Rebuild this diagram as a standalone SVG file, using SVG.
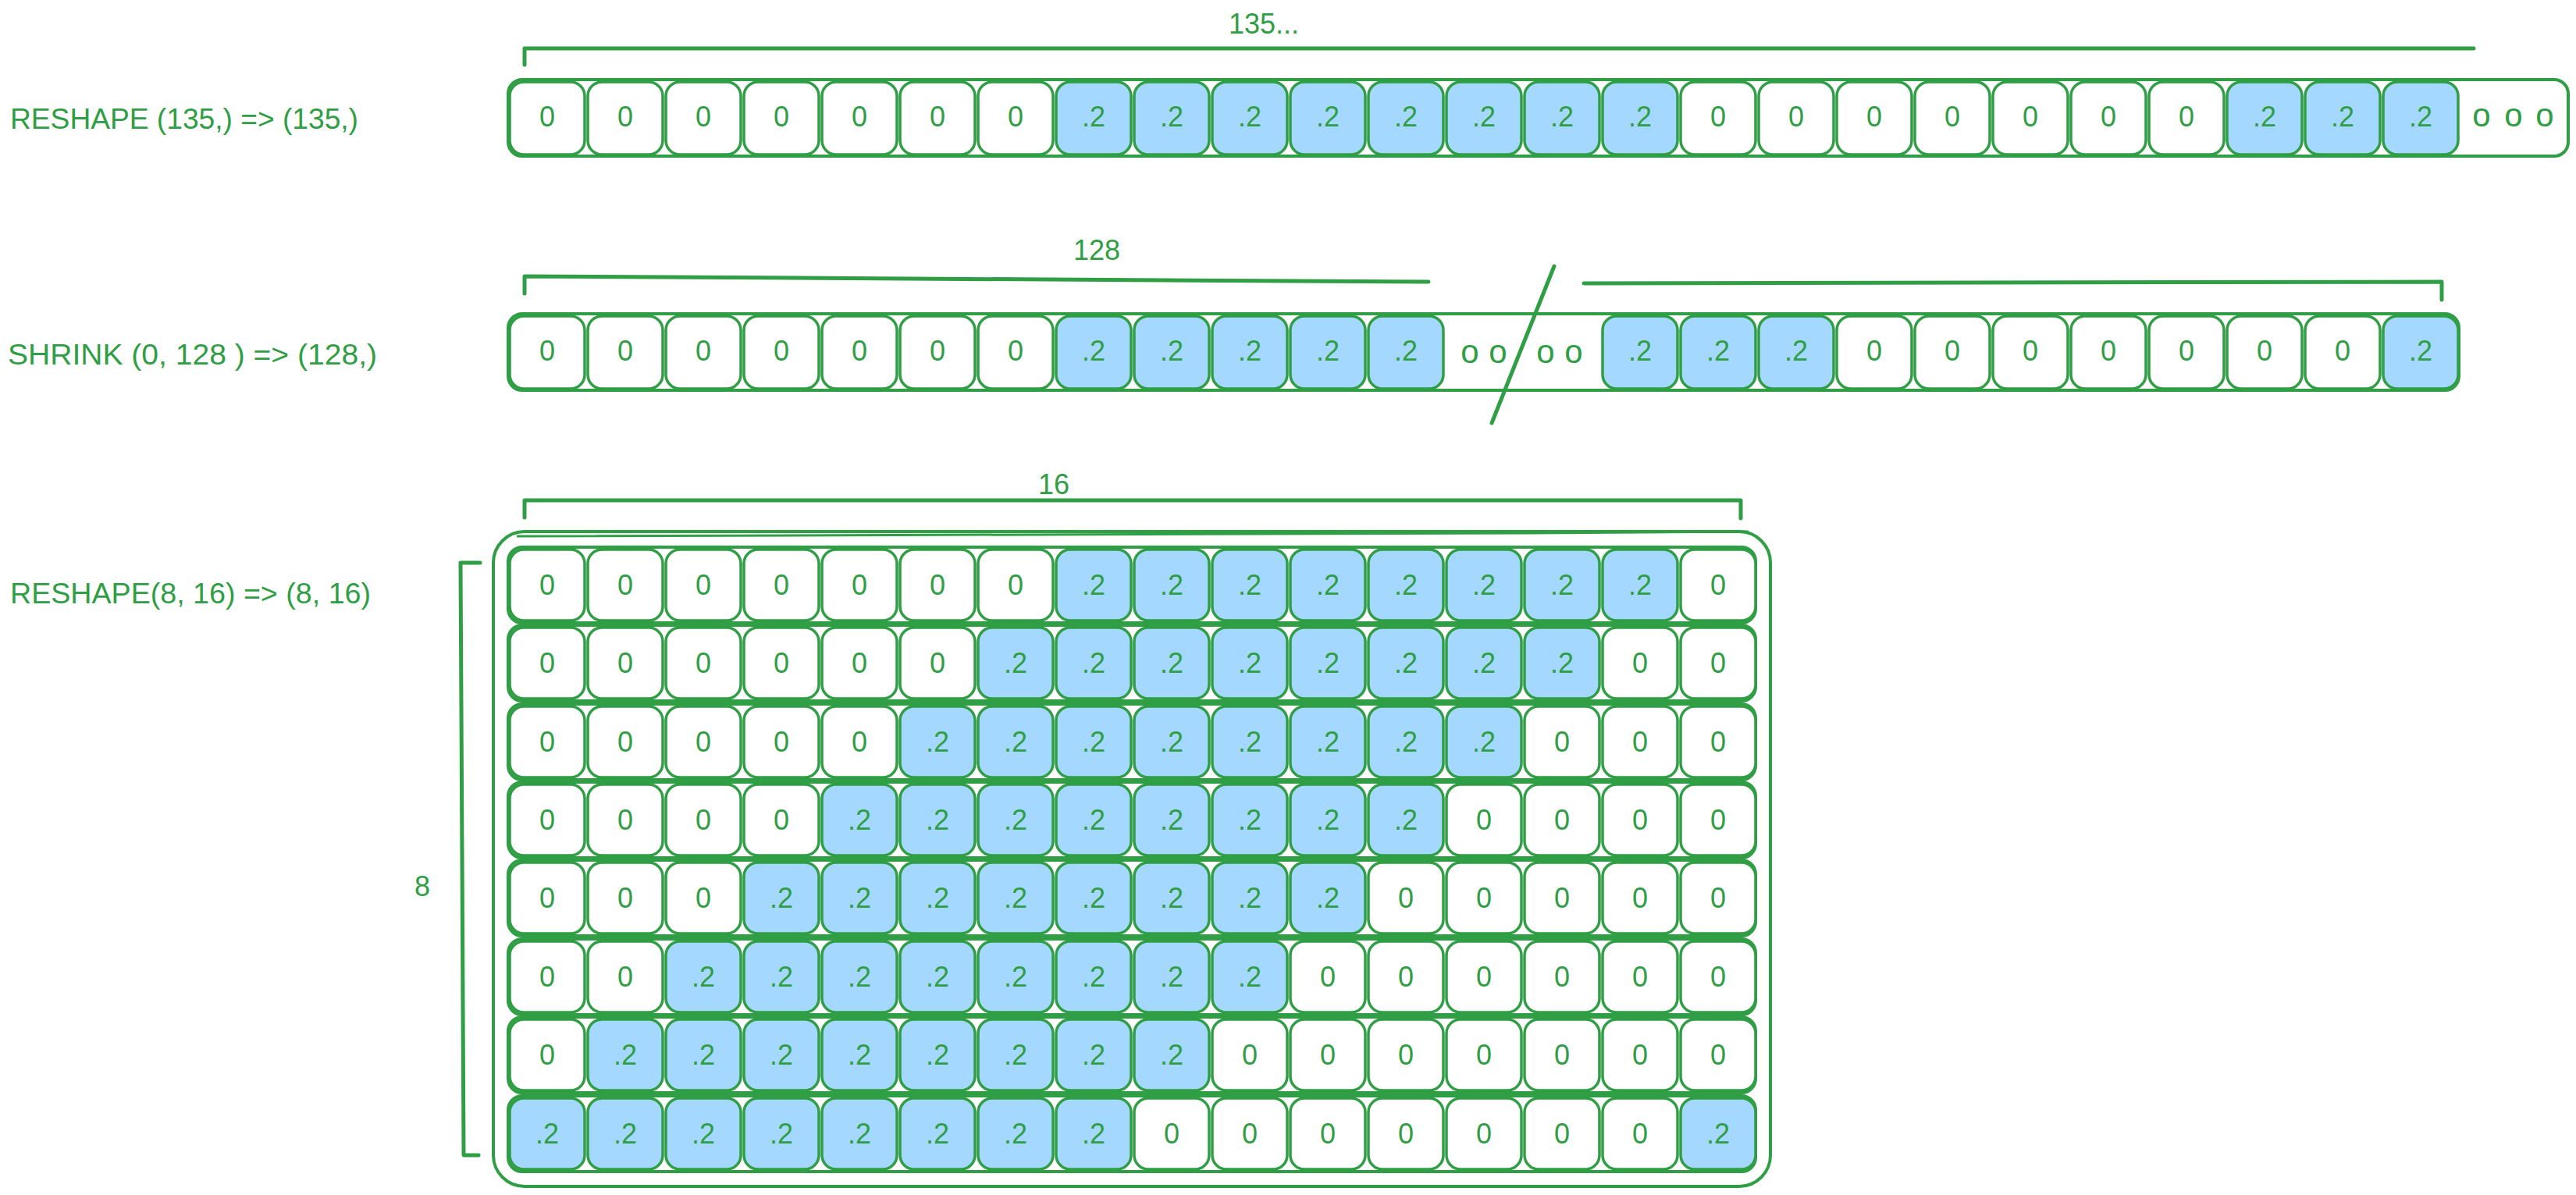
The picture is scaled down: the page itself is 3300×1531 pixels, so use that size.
<svg xmlns="http://www.w3.org/2000/svg" width="3300" height="1531" viewBox="0 0 3300 1531">
<style>
.s{fill:#ffffff;stroke:#2f9e44;stroke-width:4}
.w{fill:#ffffff;stroke:#2f9e44;stroke-width:3.5}
.b{fill:#a5d8ff;stroke:#2f9e44;stroke-width:3.5}
.t{font-family:"Liberation Sans",Arial,sans-serif;font-size:36px;fill:#2f9e44;text-anchor:middle}
.l{font-family:"Liberation Sans",Arial,sans-serif;font-size:36px;fill:#2f9e44}
.k{fill:none;stroke:#2f9e44;stroke-width:5;stroke-linecap:round;stroke-linejoin:round}
.o{font-family:"Liberation Sans",Arial,sans-serif;font-size:42px;fill:#2f9e44;text-anchor:middle}
</style>
<rect width="3300" height="1531" fill="#ffffff"/>
<g id="labels">
<text class="l" x="13" y="165" textLength="446" lengthAdjust="spacingAndGlyphs">RESHAPE (135,) =&gt; (135,)</text>
<text class="l" x="10" y="467" textLength="473" lengthAdjust="spacingAndGlyphs">SHRINK (0, 128 ) =&gt; (128,)</text>
<text class="l" x="13" y="773" textLength="462" lengthAdjust="spacingAndGlyphs">RESHAPE(8, 16) =&gt; (8, 16)</text>
<text class="t" x="1619" y="43">135...</text>
<text class="t" x="1405" y="333">128</text>
<text class="t" x="1350" y="633">16</text>
<text class="t" x="541" y="1148">8</text>
</g>
<g id="row1">
<rect class="s" x="651" y="102" width="2639" height="98" rx="18"/>
<g id="r1c0"><rect class="w" x="653" y="105" width="96" height="93" rx="18"/><text class="t" x="701" y="162">0</text></g>
<g id="r1c1"><rect class="w" x="753" y="105" width="96" height="93" rx="18"/><text class="t" x="801" y="162">0</text></g>
<g id="r1c2"><rect class="w" x="853" y="105" width="96" height="93" rx="18"/><text class="t" x="901" y="162">0</text></g>
<g id="r1c3"><rect class="w" x="953" y="105" width="96" height="93" rx="18"/><text class="t" x="1001" y="162">0</text></g>
<g id="r1c4"><rect class="w" x="1053" y="105" width="96" height="93" rx="18"/><text class="t" x="1101" y="162">0</text></g>
<g id="r1c5"><rect class="w" x="1153" y="105" width="96" height="93" rx="18"/><text class="t" x="1201" y="162">0</text></g>
<g id="r1c6"><rect class="w" x="1253" y="105" width="96" height="93" rx="18"/><text class="t" x="1301" y="162">0</text></g>
<g id="r1c7"><rect class="b" x="1353" y="105" width="96" height="93" rx="18"/><text class="t" x="1401" y="162">.2</text></g>
<g id="r1c8"><rect class="b" x="1453" y="105" width="96" height="93" rx="18"/><text class="t" x="1501" y="162">.2</text></g>
<g id="r1c9"><rect class="b" x="1553" y="105" width="96" height="93" rx="18"/><text class="t" x="1601" y="162">.2</text></g>
<g id="r1c10"><rect class="b" x="1653" y="105" width="96" height="93" rx="18"/><text class="t" x="1701" y="162">.2</text></g>
<g id="r1c11"><rect class="b" x="1753" y="105" width="96" height="93" rx="18"/><text class="t" x="1801" y="162">.2</text></g>
<g id="r1c12"><rect class="b" x="1853" y="105" width="96" height="93" rx="18"/><text class="t" x="1901" y="162">.2</text></g>
<g id="r1c13"><rect class="b" x="1953" y="105" width="96" height="93" rx="18"/><text class="t" x="2001" y="162">.2</text></g>
<g id="r1c14"><rect class="b" x="2053" y="105" width="96" height="93" rx="18"/><text class="t" x="2101" y="162">.2</text></g>
<g id="r1c15"><rect class="w" x="2153" y="105" width="96" height="93" rx="18"/><text class="t" x="2201" y="162">0</text></g>
<g id="r1c16"><rect class="w" x="2253" y="105" width="96" height="93" rx="18"/><text class="t" x="2301" y="162">0</text></g>
<g id="r1c17"><rect class="w" x="2353" y="105" width="96" height="93" rx="18"/><text class="t" x="2401" y="162">0</text></g>
<g id="r1c18"><rect class="w" x="2453" y="105" width="96" height="93" rx="18"/><text class="t" x="2501" y="162">0</text></g>
<g id="r1c19"><rect class="w" x="2553" y="105" width="96" height="93" rx="18"/><text class="t" x="2601" y="162">0</text></g>
<g id="r1c20"><rect class="w" x="2653" y="105" width="96" height="93" rx="18"/><text class="t" x="2701" y="162">0</text></g>
<g id="r1c21"><rect class="w" x="2753" y="105" width="96" height="93" rx="18"/><text class="t" x="2801" y="162">0</text></g>
<g id="r1c22"><rect class="b" x="2853" y="105" width="96" height="93" rx="18"/><text class="t" x="2901" y="162">.2</text></g>
<g id="r1c23"><rect class="b" x="2953" y="105" width="96" height="93" rx="18"/><text class="t" x="3001" y="162">.2</text></g>
<g id="r1c24"><rect class="b" x="3053" y="105" width="96" height="93" rx="18"/><text class="t" x="3101" y="162">.2</text></g>
<text class="o" x="3179 3220 3260" y="162">ooo</text>
</g>
<g id="row2">
<rect class="s" x="651" y="402" width="2499" height="98" rx="18"/>
<g id="r2c0"><rect class="w" x="653" y="405" width="96" height="93" rx="18"/><text class="t" x="701" y="462">0</text></g>
<g id="r2c1"><rect class="w" x="753" y="405" width="96" height="93" rx="18"/><text class="t" x="801" y="462">0</text></g>
<g id="r2c2"><rect class="w" x="853" y="405" width="96" height="93" rx="18"/><text class="t" x="901" y="462">0</text></g>
<g id="r2c3"><rect class="w" x="953" y="405" width="96" height="93" rx="18"/><text class="t" x="1001" y="462">0</text></g>
<g id="r2c4"><rect class="w" x="1053" y="405" width="96" height="93" rx="18"/><text class="t" x="1101" y="462">0</text></g>
<g id="r2c5"><rect class="w" x="1153" y="405" width="96" height="93" rx="18"/><text class="t" x="1201" y="462">0</text></g>
<g id="r2c6"><rect class="w" x="1253" y="405" width="96" height="93" rx="18"/><text class="t" x="1301" y="462">0</text></g>
<g id="r2c7"><rect class="b" x="1353" y="405" width="96" height="93" rx="18"/><text class="t" x="1401" y="462">.2</text></g>
<g id="r2c8"><rect class="b" x="1453" y="405" width="96" height="93" rx="18"/><text class="t" x="1501" y="462">.2</text></g>
<g id="r2c9"><rect class="b" x="1553" y="405" width="96" height="93" rx="18"/><text class="t" x="1601" y="462">.2</text></g>
<g id="r2c10"><rect class="b" x="1653" y="405" width="96" height="93" rx="18"/><text class="t" x="1701" y="462">.2</text></g>
<g id="r2c11"><rect class="b" x="1753" y="405" width="96" height="93" rx="18"/><text class="t" x="1801" y="462">.2</text></g>
<text class="o" x="1883 1919" y="465">oo</text>
<text class="o" x="1980 2016" y="465">oo</text>
<g id="r2c14"><rect class="b" x="2053" y="405" width="96" height="93" rx="18"/><text class="t" x="2101" y="462">.2</text></g>
<g id="r2c15"><rect class="b" x="2153" y="405" width="96" height="93" rx="18"/><text class="t" x="2201" y="462">.2</text></g>
<g id="r2c16"><rect class="b" x="2253" y="405" width="96" height="93" rx="18"/><text class="t" x="2301" y="462">.2</text></g>
<g id="r2c17"><rect class="w" x="2353" y="405" width="96" height="93" rx="18"/><text class="t" x="2401" y="462">0</text></g>
<g id="r2c18"><rect class="w" x="2453" y="405" width="96" height="93" rx="18"/><text class="t" x="2501" y="462">0</text></g>
<g id="r2c19"><rect class="w" x="2553" y="405" width="96" height="93" rx="18"/><text class="t" x="2601" y="462">0</text></g>
<g id="r2c20"><rect class="w" x="2653" y="405" width="96" height="93" rx="18"/><text class="t" x="2701" y="462">0</text></g>
<g id="r2c21"><rect class="w" x="2753" y="405" width="96" height="93" rx="18"/><text class="t" x="2801" y="462">0</text></g>
<g id="r2c22"><rect class="w" x="2853" y="405" width="96" height="93" rx="18"/><text class="t" x="2901" y="462">0</text></g>
<g id="r2c23"><rect class="w" x="2953" y="405" width="96" height="93" rx="18"/><text class="t" x="3001" y="462">0</text></g>
<g id="r2c24"><rect class="b" x="3053" y="405" width="96" height="93" rx="18"/><text class="t" x="3101" y="462">.2</text></g>
</g>
<g id="matrix">
<rect class="s" x="632" y="681" width="1636" height="839" rx="40"/>
<path d="M662,687 L1960,683 L2240,681" fill="none" stroke="#2f9e44" stroke-width="3"/>
<g id="m0">
<rect class="s" x="651" y="701" width="1598" height="97" rx="18"/>
<g id="m0c0"><rect class="w" x="653" y="704" width="96" height="91" rx="18"/><text class="t" x="701" y="762">0</text></g>
<g id="m0c1"><rect class="w" x="753" y="704" width="96" height="91" rx="18"/><text class="t" x="801" y="762">0</text></g>
<g id="m0c2"><rect class="w" x="853" y="704" width="96" height="91" rx="18"/><text class="t" x="901" y="762">0</text></g>
<g id="m0c3"><rect class="w" x="953" y="704" width="96" height="91" rx="18"/><text class="t" x="1001" y="762">0</text></g>
<g id="m0c4"><rect class="w" x="1053" y="704" width="96" height="91" rx="18"/><text class="t" x="1101" y="762">0</text></g>
<g id="m0c5"><rect class="w" x="1153" y="704" width="96" height="91" rx="18"/><text class="t" x="1201" y="762">0</text></g>
<g id="m0c6"><rect class="w" x="1253" y="704" width="96" height="91" rx="18"/><text class="t" x="1301" y="762">0</text></g>
<g id="m0c7"><rect class="b" x="1353" y="704" width="96" height="91" rx="18"/><text class="t" x="1401" y="762">.2</text></g>
<g id="m0c8"><rect class="b" x="1453" y="704" width="96" height="91" rx="18"/><text class="t" x="1501" y="762">.2</text></g>
<g id="m0c9"><rect class="b" x="1553" y="704" width="96" height="91" rx="18"/><text class="t" x="1601" y="762">.2</text></g>
<g id="m0c10"><rect class="b" x="1653" y="704" width="96" height="91" rx="18"/><text class="t" x="1701" y="762">.2</text></g>
<g id="m0c11"><rect class="b" x="1753" y="704" width="96" height="91" rx="18"/><text class="t" x="1801" y="762">.2</text></g>
<g id="m0c12"><rect class="b" x="1853" y="704" width="96" height="91" rx="18"/><text class="t" x="1901" y="762">.2</text></g>
<g id="m0c13"><rect class="b" x="1953" y="704" width="96" height="91" rx="18"/><text class="t" x="2001" y="762">.2</text></g>
<g id="m0c14"><rect class="b" x="2053" y="704" width="96" height="91" rx="18"/><text class="t" x="2101" y="762">.2</text></g>
<g id="m0c15"><rect class="w" x="2153" y="704" width="96" height="91" rx="18"/><text class="t" x="2201" y="762">0</text></g>
</g>
<g id="m1">
<rect class="s" x="651" y="801" width="1598" height="97" rx="18"/>
<g id="m1c0"><rect class="w" x="653" y="804" width="96" height="91" rx="18"/><text class="t" x="701" y="862">0</text></g>
<g id="m1c1"><rect class="w" x="753" y="804" width="96" height="91" rx="18"/><text class="t" x="801" y="862">0</text></g>
<g id="m1c2"><rect class="w" x="853" y="804" width="96" height="91" rx="18"/><text class="t" x="901" y="862">0</text></g>
<g id="m1c3"><rect class="w" x="953" y="804" width="96" height="91" rx="18"/><text class="t" x="1001" y="862">0</text></g>
<g id="m1c4"><rect class="w" x="1053" y="804" width="96" height="91" rx="18"/><text class="t" x="1101" y="862">0</text></g>
<g id="m1c5"><rect class="w" x="1153" y="804" width="96" height="91" rx="18"/><text class="t" x="1201" y="862">0</text></g>
<g id="m1c6"><rect class="b" x="1253" y="804" width="96" height="91" rx="18"/><text class="t" x="1301" y="862">.2</text></g>
<g id="m1c7"><rect class="b" x="1353" y="804" width="96" height="91" rx="18"/><text class="t" x="1401" y="862">.2</text></g>
<g id="m1c8"><rect class="b" x="1453" y="804" width="96" height="91" rx="18"/><text class="t" x="1501" y="862">.2</text></g>
<g id="m1c9"><rect class="b" x="1553" y="804" width="96" height="91" rx="18"/><text class="t" x="1601" y="862">.2</text></g>
<g id="m1c10"><rect class="b" x="1653" y="804" width="96" height="91" rx="18"/><text class="t" x="1701" y="862">.2</text></g>
<g id="m1c11"><rect class="b" x="1753" y="804" width="96" height="91" rx="18"/><text class="t" x="1801" y="862">.2</text></g>
<g id="m1c12"><rect class="b" x="1853" y="804" width="96" height="91" rx="18"/><text class="t" x="1901" y="862">.2</text></g>
<g id="m1c13"><rect class="b" x="1953" y="804" width="96" height="91" rx="18"/><text class="t" x="2001" y="862">.2</text></g>
<g id="m1c14"><rect class="w" x="2053" y="804" width="96" height="91" rx="18"/><text class="t" x="2101" y="862">0</text></g>
<g id="m1c15"><rect class="w" x="2153" y="804" width="96" height="91" rx="18"/><text class="t" x="2201" y="862">0</text></g>
</g>
<g id="m2">
<rect class="s" x="651" y="902" width="1598" height="97" rx="18"/>
<g id="m2c0"><rect class="w" x="653" y="905" width="96" height="91" rx="18"/><text class="t" x="701" y="963">0</text></g>
<g id="m2c1"><rect class="w" x="753" y="905" width="96" height="91" rx="18"/><text class="t" x="801" y="963">0</text></g>
<g id="m2c2"><rect class="w" x="853" y="905" width="96" height="91" rx="18"/><text class="t" x="901" y="963">0</text></g>
<g id="m2c3"><rect class="w" x="953" y="905" width="96" height="91" rx="18"/><text class="t" x="1001" y="963">0</text></g>
<g id="m2c4"><rect class="w" x="1053" y="905" width="96" height="91" rx="18"/><text class="t" x="1101" y="963">0</text></g>
<g id="m2c5"><rect class="b" x="1153" y="905" width="96" height="91" rx="18"/><text class="t" x="1201" y="963">.2</text></g>
<g id="m2c6"><rect class="b" x="1253" y="905" width="96" height="91" rx="18"/><text class="t" x="1301" y="963">.2</text></g>
<g id="m2c7"><rect class="b" x="1353" y="905" width="96" height="91" rx="18"/><text class="t" x="1401" y="963">.2</text></g>
<g id="m2c8"><rect class="b" x="1453" y="905" width="96" height="91" rx="18"/><text class="t" x="1501" y="963">.2</text></g>
<g id="m2c9"><rect class="b" x="1553" y="905" width="96" height="91" rx="18"/><text class="t" x="1601" y="963">.2</text></g>
<g id="m2c10"><rect class="b" x="1653" y="905" width="96" height="91" rx="18"/><text class="t" x="1701" y="963">.2</text></g>
<g id="m2c11"><rect class="b" x="1753" y="905" width="96" height="91" rx="18"/><text class="t" x="1801" y="963">.2</text></g>
<g id="m2c12"><rect class="b" x="1853" y="905" width="96" height="91" rx="18"/><text class="t" x="1901" y="963">.2</text></g>
<g id="m2c13"><rect class="w" x="1953" y="905" width="96" height="91" rx="18"/><text class="t" x="2001" y="963">0</text></g>
<g id="m2c14"><rect class="w" x="2053" y="905" width="96" height="91" rx="18"/><text class="t" x="2101" y="963">0</text></g>
<g id="m2c15"><rect class="w" x="2153" y="905" width="96" height="91" rx="18"/><text class="t" x="2201" y="963">0</text></g>
</g>
<g id="m3">
<rect class="s" x="651" y="1002" width="1598" height="97" rx="18"/>
<g id="m3c0"><rect class="w" x="653" y="1005" width="96" height="91" rx="18"/><text class="t" x="701" y="1063">0</text></g>
<g id="m3c1"><rect class="w" x="753" y="1005" width="96" height="91" rx="18"/><text class="t" x="801" y="1063">0</text></g>
<g id="m3c2"><rect class="w" x="853" y="1005" width="96" height="91" rx="18"/><text class="t" x="901" y="1063">0</text></g>
<g id="m3c3"><rect class="w" x="953" y="1005" width="96" height="91" rx="18"/><text class="t" x="1001" y="1063">0</text></g>
<g id="m3c4"><rect class="b" x="1053" y="1005" width="96" height="91" rx="18"/><text class="t" x="1101" y="1063">.2</text></g>
<g id="m3c5"><rect class="b" x="1153" y="1005" width="96" height="91" rx="18"/><text class="t" x="1201" y="1063">.2</text></g>
<g id="m3c6"><rect class="b" x="1253" y="1005" width="96" height="91" rx="18"/><text class="t" x="1301" y="1063">.2</text></g>
<g id="m3c7"><rect class="b" x="1353" y="1005" width="96" height="91" rx="18"/><text class="t" x="1401" y="1063">.2</text></g>
<g id="m3c8"><rect class="b" x="1453" y="1005" width="96" height="91" rx="18"/><text class="t" x="1501" y="1063">.2</text></g>
<g id="m3c9"><rect class="b" x="1553" y="1005" width="96" height="91" rx="18"/><text class="t" x="1601" y="1063">.2</text></g>
<g id="m3c10"><rect class="b" x="1653" y="1005" width="96" height="91" rx="18"/><text class="t" x="1701" y="1063">.2</text></g>
<g id="m3c11"><rect class="b" x="1753" y="1005" width="96" height="91" rx="18"/><text class="t" x="1801" y="1063">.2</text></g>
<g id="m3c12"><rect class="w" x="1853" y="1005" width="96" height="91" rx="18"/><text class="t" x="1901" y="1063">0</text></g>
<g id="m3c13"><rect class="w" x="1953" y="1005" width="96" height="91" rx="18"/><text class="t" x="2001" y="1063">0</text></g>
<g id="m3c14"><rect class="w" x="2053" y="1005" width="96" height="91" rx="18"/><text class="t" x="2101" y="1063">0</text></g>
<g id="m3c15"><rect class="w" x="2153" y="1005" width="96" height="91" rx="18"/><text class="t" x="2201" y="1063">0</text></g>
</g>
<g id="m4">
<rect class="s" x="651" y="1102" width="1598" height="97" rx="18"/>
<g id="m4c0"><rect class="w" x="653" y="1105" width="96" height="91" rx="18"/><text class="t" x="701" y="1163">0</text></g>
<g id="m4c1"><rect class="w" x="753" y="1105" width="96" height="91" rx="18"/><text class="t" x="801" y="1163">0</text></g>
<g id="m4c2"><rect class="w" x="853" y="1105" width="96" height="91" rx="18"/><text class="t" x="901" y="1163">0</text></g>
<g id="m4c3"><rect class="b" x="953" y="1105" width="96" height="91" rx="18"/><text class="t" x="1001" y="1163">.2</text></g>
<g id="m4c4"><rect class="b" x="1053" y="1105" width="96" height="91" rx="18"/><text class="t" x="1101" y="1163">.2</text></g>
<g id="m4c5"><rect class="b" x="1153" y="1105" width="96" height="91" rx="18"/><text class="t" x="1201" y="1163">.2</text></g>
<g id="m4c6"><rect class="b" x="1253" y="1105" width="96" height="91" rx="18"/><text class="t" x="1301" y="1163">.2</text></g>
<g id="m4c7"><rect class="b" x="1353" y="1105" width="96" height="91" rx="18"/><text class="t" x="1401" y="1163">.2</text></g>
<g id="m4c8"><rect class="b" x="1453" y="1105" width="96" height="91" rx="18"/><text class="t" x="1501" y="1163">.2</text></g>
<g id="m4c9"><rect class="b" x="1553" y="1105" width="96" height="91" rx="18"/><text class="t" x="1601" y="1163">.2</text></g>
<g id="m4c10"><rect class="b" x="1653" y="1105" width="96" height="91" rx="18"/><text class="t" x="1701" y="1163">.2</text></g>
<g id="m4c11"><rect class="w" x="1753" y="1105" width="96" height="91" rx="18"/><text class="t" x="1801" y="1163">0</text></g>
<g id="m4c12"><rect class="w" x="1853" y="1105" width="96" height="91" rx="18"/><text class="t" x="1901" y="1163">0</text></g>
<g id="m4c13"><rect class="w" x="1953" y="1105" width="96" height="91" rx="18"/><text class="t" x="2001" y="1163">0</text></g>
<g id="m4c14"><rect class="w" x="2053" y="1105" width="96" height="91" rx="18"/><text class="t" x="2101" y="1163">0</text></g>
<g id="m4c15"><rect class="w" x="2153" y="1105" width="96" height="91" rx="18"/><text class="t" x="2201" y="1163">0</text></g>
</g>
<g id="m5">
<rect class="s" x="651" y="1203" width="1598" height="97" rx="18"/>
<g id="m5c0"><rect class="w" x="653" y="1206" width="96" height="91" rx="18"/><text class="t" x="701" y="1264">0</text></g>
<g id="m5c1"><rect class="w" x="753" y="1206" width="96" height="91" rx="18"/><text class="t" x="801" y="1264">0</text></g>
<g id="m5c2"><rect class="b" x="853" y="1206" width="96" height="91" rx="18"/><text class="t" x="901" y="1264">.2</text></g>
<g id="m5c3"><rect class="b" x="953" y="1206" width="96" height="91" rx="18"/><text class="t" x="1001" y="1264">.2</text></g>
<g id="m5c4"><rect class="b" x="1053" y="1206" width="96" height="91" rx="18"/><text class="t" x="1101" y="1264">.2</text></g>
<g id="m5c5"><rect class="b" x="1153" y="1206" width="96" height="91" rx="18"/><text class="t" x="1201" y="1264">.2</text></g>
<g id="m5c6"><rect class="b" x="1253" y="1206" width="96" height="91" rx="18"/><text class="t" x="1301" y="1264">.2</text></g>
<g id="m5c7"><rect class="b" x="1353" y="1206" width="96" height="91" rx="18"/><text class="t" x="1401" y="1264">.2</text></g>
<g id="m5c8"><rect class="b" x="1453" y="1206" width="96" height="91" rx="18"/><text class="t" x="1501" y="1264">.2</text></g>
<g id="m5c9"><rect class="b" x="1553" y="1206" width="96" height="91" rx="18"/><text class="t" x="1601" y="1264">.2</text></g>
<g id="m5c10"><rect class="w" x="1653" y="1206" width="96" height="91" rx="18"/><text class="t" x="1701" y="1264">0</text></g>
<g id="m5c11"><rect class="w" x="1753" y="1206" width="96" height="91" rx="18"/><text class="t" x="1801" y="1264">0</text></g>
<g id="m5c12"><rect class="w" x="1853" y="1206" width="96" height="91" rx="18"/><text class="t" x="1901" y="1264">0</text></g>
<g id="m5c13"><rect class="w" x="1953" y="1206" width="96" height="91" rx="18"/><text class="t" x="2001" y="1264">0</text></g>
<g id="m5c14"><rect class="w" x="2053" y="1206" width="96" height="91" rx="18"/><text class="t" x="2101" y="1264">0</text></g>
<g id="m5c15"><rect class="w" x="2153" y="1206" width="96" height="91" rx="18"/><text class="t" x="2201" y="1264">0</text></g>
</g>
<g id="m6">
<rect class="s" x="651" y="1303" width="1598" height="97" rx="18"/>
<g id="m6c0"><rect class="w" x="653" y="1306" width="96" height="91" rx="18"/><text class="t" x="701" y="1364">0</text></g>
<g id="m6c1"><rect class="b" x="753" y="1306" width="96" height="91" rx="18"/><text class="t" x="801" y="1364">.2</text></g>
<g id="m6c2"><rect class="b" x="853" y="1306" width="96" height="91" rx="18"/><text class="t" x="901" y="1364">.2</text></g>
<g id="m6c3"><rect class="b" x="953" y="1306" width="96" height="91" rx="18"/><text class="t" x="1001" y="1364">.2</text></g>
<g id="m6c4"><rect class="b" x="1053" y="1306" width="96" height="91" rx="18"/><text class="t" x="1101" y="1364">.2</text></g>
<g id="m6c5"><rect class="b" x="1153" y="1306" width="96" height="91" rx="18"/><text class="t" x="1201" y="1364">.2</text></g>
<g id="m6c6"><rect class="b" x="1253" y="1306" width="96" height="91" rx="18"/><text class="t" x="1301" y="1364">.2</text></g>
<g id="m6c7"><rect class="b" x="1353" y="1306" width="96" height="91" rx="18"/><text class="t" x="1401" y="1364">.2</text></g>
<g id="m6c8"><rect class="b" x="1453" y="1306" width="96" height="91" rx="18"/><text class="t" x="1501" y="1364">.2</text></g>
<g id="m6c9"><rect class="w" x="1553" y="1306" width="96" height="91" rx="18"/><text class="t" x="1601" y="1364">0</text></g>
<g id="m6c10"><rect class="w" x="1653" y="1306" width="96" height="91" rx="18"/><text class="t" x="1701" y="1364">0</text></g>
<g id="m6c11"><rect class="w" x="1753" y="1306" width="96" height="91" rx="18"/><text class="t" x="1801" y="1364">0</text></g>
<g id="m6c12"><rect class="w" x="1853" y="1306" width="96" height="91" rx="18"/><text class="t" x="1901" y="1364">0</text></g>
<g id="m6c13"><rect class="w" x="1953" y="1306" width="96" height="91" rx="18"/><text class="t" x="2001" y="1364">0</text></g>
<g id="m6c14"><rect class="w" x="2053" y="1306" width="96" height="91" rx="18"/><text class="t" x="2101" y="1364">0</text></g>
<g id="m6c15"><rect class="w" x="2153" y="1306" width="96" height="91" rx="18"/><text class="t" x="2201" y="1364">0</text></g>
</g>
<g id="m7">
<rect class="s" x="651" y="1404" width="1598" height="97" rx="18"/>
<g id="m7c0"><rect class="b" x="653" y="1407" width="96" height="91" rx="18"/><text class="t" x="701" y="1465">.2</text></g>
<g id="m7c1"><rect class="b" x="753" y="1407" width="96" height="91" rx="18"/><text class="t" x="801" y="1465">.2</text></g>
<g id="m7c2"><rect class="b" x="853" y="1407" width="96" height="91" rx="18"/><text class="t" x="901" y="1465">.2</text></g>
<g id="m7c3"><rect class="b" x="953" y="1407" width="96" height="91" rx="18"/><text class="t" x="1001" y="1465">.2</text></g>
<g id="m7c4"><rect class="b" x="1053" y="1407" width="96" height="91" rx="18"/><text class="t" x="1101" y="1465">.2</text></g>
<g id="m7c5"><rect class="b" x="1153" y="1407" width="96" height="91" rx="18"/><text class="t" x="1201" y="1465">.2</text></g>
<g id="m7c6"><rect class="b" x="1253" y="1407" width="96" height="91" rx="18"/><text class="t" x="1301" y="1465">.2</text></g>
<g id="m7c7"><rect class="b" x="1353" y="1407" width="96" height="91" rx="18"/><text class="t" x="1401" y="1465">.2</text></g>
<g id="m7c8"><rect class="w" x="1453" y="1407" width="96" height="91" rx="18"/><text class="t" x="1501" y="1465">0</text></g>
<g id="m7c9"><rect class="w" x="1553" y="1407" width="96" height="91" rx="18"/><text class="t" x="1601" y="1465">0</text></g>
<g id="m7c10"><rect class="w" x="1653" y="1407" width="96" height="91" rx="18"/><text class="t" x="1701" y="1465">0</text></g>
<g id="m7c11"><rect class="w" x="1753" y="1407" width="96" height="91" rx="18"/><text class="t" x="1801" y="1465">0</text></g>
<g id="m7c12"><rect class="w" x="1853" y="1407" width="96" height="91" rx="18"/><text class="t" x="1901" y="1465">0</text></g>
<g id="m7c13"><rect class="w" x="1953" y="1407" width="96" height="91" rx="18"/><text class="t" x="2001" y="1465">0</text></g>
<g id="m7c14"><rect class="w" x="2053" y="1407" width="96" height="91" rx="18"/><text class="t" x="2101" y="1465">0</text></g>
<g id="m7c15"><rect class="b" x="2153" y="1407" width="96" height="91" rx="18"/><text class="t" x="2201" y="1465">.2</text></g>
</g>
</g>
<g id="connectors">
<polyline class="k" points="672,83 672,62 3169,62"/>
<polyline class="k" points="672,376 672,354 1830,361"/>
<polyline class="k" points="2029,363 3128,361 3128,384"/>
<line class="k" x1="1991" y1="341" x2="1911" y2="542"/>
<polyline class="k" points="672,663 672,641 2230,641 2230,664"/>
<polyline class="k" points="615,721 590,721 594,1480 613,1480"/>
</g>
</svg>
